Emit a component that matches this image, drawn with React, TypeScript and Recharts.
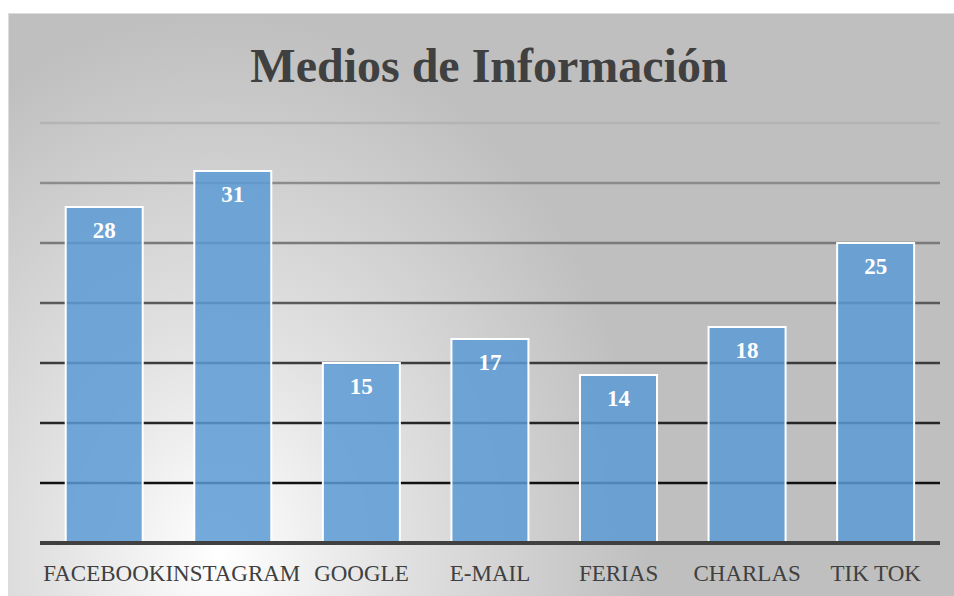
import React from "react"
import { BarChart, Bar, XAxis, YAxis, CartesianGrid, LabelList } from "recharts"

const categories = ["FACEBOOK", "INSTAGRAM", "GOOGLE", "E-MAIL", "FERIAS", "CHARLAS", "TIK TOK"]
const respuestas = [28, 31, 15, 17, 14, 18, 25]
const yTicks = [0, 5, 10, 15, 20, 25, 30, 35]

// darker lines at the bottom, fading towards the top
const gridShades = ["#404040", "#111111", "#262626", "#3c3c3c", "#5a5a5a", "#7a7a7a", "#8c8c8c", "#b4b4b4"]

const data = categories.map((name, i) => ({ name, value: respuestas[i] }))

const serif = '"Liberation Serif", "Times New Roman", serif'

const GridLine = (props: any) => {
	const { x1, x2, y1, y2, index } = props
	return (
		<line
			key={`grid-${index}`}
			x1={x1}
			x2={x2}
			y1={y1}
			y2={y2}
			stroke={gridShades[index] ?? "#888"}
			strokeWidth={2.5}
		/>
	)
}

const CategoryTick = (props: any) => {
	const { x, y, payload } = props
	return (
		<text x={x} y={y} dy={30} textAnchor="middle" fill="#404040" fontFamily={serif} fontSize={23}>
			{payload.value}
		</text>
	)
}

export default function App() {
	return (
		<div
			style={{
				position: "absolute",
				left: 8,
				top: 13,
				width: 946,
				height: 583,
				overflow: "hidden",
				boxSizing: "border-box",
				borderTop: "1px solid #dcdcdc",
				borderLeft: "1px solid #dcdcdc",
				background:
					"radial-gradient(ellipse 430px 540px at 210px 540px, #ffffff 0%, #e2e2e2 40%, #bfbfbf 100%)",
			}}
		>
			<div
				style={{
					position: "absolute",
					left: 0,
					top: 28,
					width: 960,
					textAlign: "center",
					fontFamily: serif,
					fontWeight: "bold",
					fontSize: 48,
					lineHeight: "48px",
					color: "#404040",
				}}
			>
				Medios de Información
			</div>
			<div style={{ position: "absolute", left: -1, top: -1 }}>
				<BarChart
					width={946}
					height={583}
					data={data}
					margin={{ top: 110, right: 14, bottom: 0, left: 32 }}
					barCategoryGap="20%"
				>
					<CartesianGrid vertical={false} horizontal={GridLine} />
					<YAxis hide domain={[0, 35]} ticks={yTicks} />
					<XAxis
						dataKey="name"
						height={53}
						tickLine={false}
						axisLine={{ stroke: "#404040", strokeWidth: 4 }}
						tick={<CategoryTick />}
						interval={0}
					/>
					<Bar
						dataKey="value"
						fill="#5b9bd5"
						fillOpacity={0.85}
						stroke="#ffffff"
						strokeWidth={2}
						isAnimationActive={false}
					>
						<LabelList
							dataKey="value"
							position="insideTop"
							offset={15}
							fill="#ffffff"
							fontFamily={serif}
							fontWeight="bold"
							fontSize={23}
						/>
					</Bar>
				</BarChart>
			</div>
		</div>
	)
}
